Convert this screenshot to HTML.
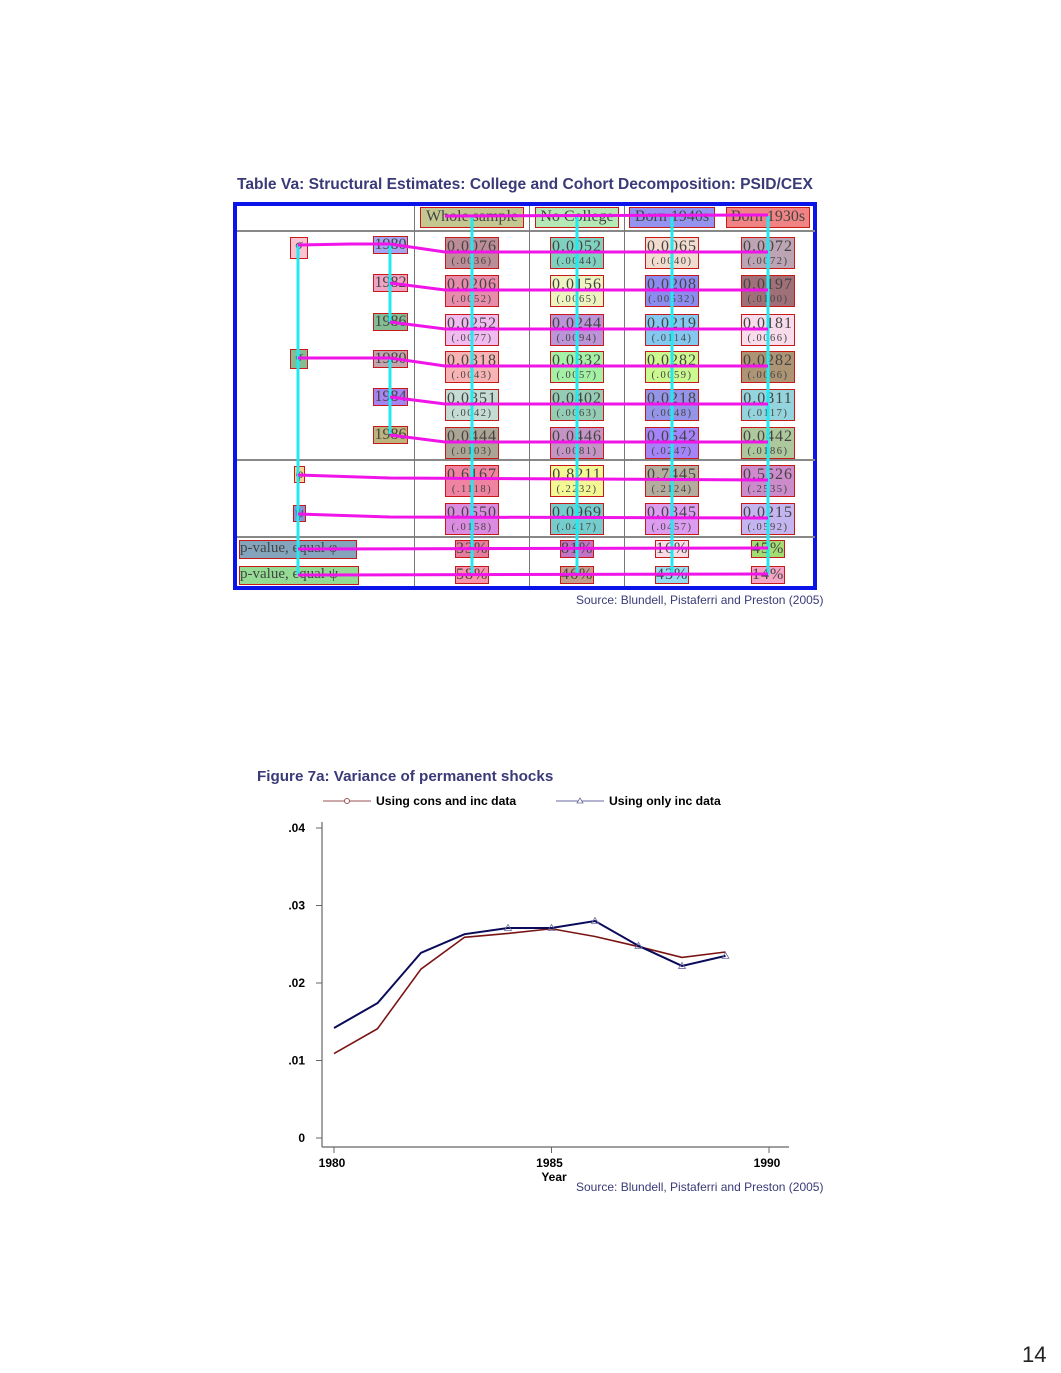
<!DOCTYPE html>
<html><head><meta charset="utf-8">
<style>
body{margin:0;width:1061px;height:1373px;background:#fff;position:relative;overflow:hidden;font-family:"Liberation Sans",sans-serif}
.abs{position:absolute}
.ttl{color:#3a3a78;font-weight:bold}
.box{position:absolute;border:1.5px solid #c81818;box-sizing:border-box;font-family:"Liberation Serif",serif;color:#444;text-align:center;white-space:nowrap;overflow:visible}
.val{font-size:16px;line-height:17px;letter-spacing:1px}
.se{font-size:10.5px;line-height:13px;letter-spacing:1.5px}
.src{font-size:12px;color:#3a3a78}
</style></head><body>
<div class="abs ttl" style="left:237px;top:176px;font-size:15.6px">Table Va: Structural Estimates: College and Cohort Decomposition: PSID/CEX</div>
<div id="tbl" class="abs" style="left:0;top:0;width:1061px;height:700px"></div>
<div class="abs src" style="left:576px;top:593px">Source: Blundell, Pistaferri and Preston (2005)</div>

<div class="abs ttl" style="left:257px;top:768px;font-size:15.2px">Figure 7a: Variance of permanent shocks</div>
<svg id="chart" class="abs" style="left:0;top:0" width="1061" height="1373"></svg>
<div class="abs src" style="left:576px;top:1180px">Source: Blundell, Pistaferri and Preston (2005)</div>
<div class="abs" style="left:1022px;top:1342px;font-size:22px;color:#222">14</div>

<script>
// ---------- table data ----------
const colHeads=["Whole sample","No College","Born 1940s","Born 1930s"];
const headColors=["#c4c890","#b4e8b4","#9494f0","#f08484"];
const rowVals=[["0.0076","0.0052","0.0065","0.0072"],["0.0206","0.0156","0.0208","0.0197"],["0.0252","0.0244","0.0219","0.0181"],["0.0318","0.0332","0.0282","0.0282"],["0.0351","0.0402","0.0218","0.0311"],["0.0444","0.0446","0.0542","0.0442"],["0.6167","0.8211","0.7445","0.5526"],["0.0550","0.0969","0.0845","0.0215"]];
const rowSEs=[["(.0036)","(.0044)","(.0040)","(.0072)"],["(.0052)","(.0065)","(.00532)","(.0100)"],["(.0077)","(.0094)","(.0114)","(.0066)"],["(.0043)","(.0057)","(.0059)","(.0066)"],["(.0042)","(.0063)","(.0048)","(.0117)"],["(.0103)","(.0081)","(.0247)","(.0186)"],["(.1118)","(.2232)","(.2124)","(.2535)"],["(.0158)","(.0417)","(.0457)","(.0592)"]];
const cellColors=[["#bc8c98","#80d0c0","#f2dccf","#bca4b4"],["#e88cac","#eef4c0","#8c8cf0","#a07078"],["#f0bcf0","#bc94d8","#84c8f0","#f8dcec"],["#f8b4b4","#a4f0a4","#ccf890","#ac9474"],["#c4dcd4","#94ccb4","#9494e8","#94d4dc"],["#aca494","#c494c4","#a484f8","#acc89c"],["#f084a0","#f4f894","#b4ac9c","#cc8ccc"],["#dc8ce0","#74cccc","#dc9cf0","#c4b4f0"]];
const pVals=[["33%","81%","16%","45%"],["58%","46%","43%","14%"]];
const pColors=[["#e47c9c","#c474c4","#f8dce4","#a4dc74"],["#f894ac","#c49c8c","#94dcf0","#f4a4c4"]];
const yearLabels=["1980","1982","1986","1980","1984","1986"];
const yearColors=["#a4a4f0","#f0a4c4","#84bc94","#c4a4ac","#a484f0","#bcb47c"];

const T=document.getElementById('tbl');
const colX=[472,577,672,768];
const rowY=[237,275,314,351,389,427,465,503];
function div(cls,l,t,w,h,bg,html){const d=document.createElement('div');d.className=cls;d.style.left=l+'px';d.style.top=t+'px';if(w)d.style.width=w+'px';if(h)d.style.height=h+'px';if(bg)d.style.background=bg;d.innerHTML=html;T.appendChild(d);return d;}
let f=div('abs',233,202,584,388,null,'');f.style.border='4px solid #0a14e8';f.style.boxSizing='border-box';


[[237,230,578,2],[237,459,578,2],[237,536,578,2]].forEach(r=>{let g=div('abs',r[0],r[1],r[2],r[3],'#888','');

});
[414,529,624].forEach(x=>{let g=div('abs',x,206,1,380,'#777','');

});
colHeads.forEach((h,i)=>{let w=[104,84,86,84][i];let d=div('box val',colX[i]-w/2,207,w,21,headColors[i],h);d.style.lineHeight='18px';d.style.letterSpacing='0';

});
rowVals.forEach((r,ri)=>r.forEach((v,ci)=>{let d=div('box',colX[ci]-27,rowY[ri],54,32,cellColors[ri][ci],'<div class="val">'+v+'</div><div class="se">'+rowSEs[ri][ci]+'</div>');

}));
pVals.forEach((r,ri)=>r.forEach((v,ci)=>{let d=div('box val',colX[ci]-17,540+ri*26,34,18,pColors[ri][ci],v);d.style.lineHeight='15px';

}));
const yearTops=[236,274,313,350,388,426];
yearLabels.forEach((y,i)=>{let d=div('box val',373,yearTops[i],35,18,yearColors[i],y);d.style.lineHeight='15px';d.style.letterSpacing='0';

});
const params=[[290,237,18,22,'#f8c4d4','σ'],[290,349,18,20,'#84bc94','σ'],[294,466,11,17,'#f8d494','φ'],[293,505,13,17,'#8494d4','ψ'],[239,540,118,19,'#84a4bc','p-value, equal φ'],[239,566,120,19,'#94dc94','p-value, equal ψ']];
params.forEach(p=>{let d=div('box val',p[0],p[1],p[2],p[3],p[4],p[5]);d.style.lineHeight='15px';d.style.letterSpacing='0';d.style.fontSize=p[2]>50?'15px':'14px';if(p[2]>50)d.style.textAlign='left';

});
const ns='http://www.w3.org/2000/svg';
const ov=document.createElementNS(ns,'svg');ov.setAttribute('width','1061');ov.setAttribute('height','700');ov.style.position='absolute';ov.style.left='0';ov.style.top='0';


T.appendChild(ov);
function pl(pts,col,w){const p=document.createElementNS(ns,'polyline');p.setAttribute('points',pts);p.setAttribute('fill','none');p.setAttribute('stroke',col);p.setAttribute('stroke-width',w);ov.appendChild(p);return p;}
[[298,575,298,245],[390,245,390,322],[390,358,390,434]].forEach(a=>pl(a.join(','),'#22e8f0',3));
colX.forEach(x=>pl(x+',216 '+x+',575','#22e8f0',3));
const mag=[[[298,245],[350,244],[390,244],[445,252],[768,252]],[[390,283],[445,290],[768,290]],[[390,322],[445,329],[768,329]],[[298,358],[390,358],[445,366],[768,366]],[[390,397],[445,404],[768,404]],[[390,435],[445,442],[768,442]],[[298,475],[390,478],[768,480]],[[298,514],[390,517],[768,518]],[[298,549],[768,548]],[[298,575],[768,574]],[[445,216],[768,215]]];
mag.forEach(m=>pl(m.map(p=>p.join(',')).join(' '),'#f014e8',3));

// ---------- chart data ----------
const years=[1980,1981,1982,1983,1984,1985,1986,1987,1988,1989];
const consInc=[0.0109,0.0141,0.0218,0.0259,0.0264,0.0270,0.0260,0.0247,0.0233,0.0240];
const onlyInc=[0.0142,0.0174,0.0239,0.0263,0.0271,0.0271,0.0280,0.0248,0.0222,0.0235];
const yTicks=[0,0.01,0.02,0.03,0.04];
const yTickLabels=["0",".01",".02",".03",".04"];
const xTicks=[1980,1985,1990];
const xTickLabels=["1980","1985","1990"];

const C=document.getElementById('chart');
const X=v=>334+(v-1980)*43.5;
const Y=v=>1138-v*7750;
function el(tag,attrs,txt){const e=document.createElementNS(ns,tag);for(const k in attrs)e.setAttribute(k,attrs[k]);if(txt!==undefined)e.textContent=txt;C.appendChild(e);return e;}
let a=el('line',{x1:322,y1:822,x2:322,y2:1147,stroke:'#666','stroke-width':1.2});


a=el('line',{x1:322,y1:1147,x2:789,y2:1147,stroke:'#666','stroke-width':1.2});


yTicks.forEach((t,i)=>{el('line',{x1:316,y1:Y(t),x2:322,y2:Y(t),stroke:'#666'});
let l=el('text',{x:305,y:Y(t)+4,'text-anchor':'end','font-size':12,'font-weight':'bold','font-family':'Liberation Sans'},yTickLabels[i]);

});
xTicks.forEach((t,i)=>{el('line',{x1:X(t),y1:1147,x2:X(t),y2:1153,stroke:'#666'});
let l=el('text',{x:X(t)-2,y:1167,'text-anchor':'middle','font-size':12,'font-weight':'bold','font-family':'Liberation Sans'},xTickLabels[i]);

});
let xt=el('text',{x:554,y:1181,'text-anchor':'middle','font-size':12,'font-weight':'bold','font-family':'Liberation Sans'},'Year');


let s1=el('polyline',{points:years.map((y,i)=>X(y)+','+Y(consInc[i])).join(' '),fill:'none',stroke:'#7a1414','stroke-width':1.6});


let s2=el('polyline',{points:years.map((y,i)=>X(y)+','+Y(onlyInc[i])).join(' '),fill:'none',stroke:'#0a0a5a','stroke-width':2});


years.forEach((y,i)=>{if(i>=4){let cx=X(y),cy=Y(onlyInc[i]);let m=el('polygon',{points:`${cx},${cy-3.5} ${cx-3.5},${cy+2.5} ${cx+3.5},${cy+2.5}`,fill:'none',stroke:'#6a6aa0','stroke-width':0.8});

}});
el('line',{x1:323,y1:801,x2:371,y2:801,stroke:'#9a5050'});
el('circle',{cx:347,cy:801,r:2.5,fill:'#fff',stroke:'#9a5050'});
let lg=el('text',{x:376,y:805,'font-size':12.2,'font-weight':'bold','font-family':'Liberation Sans'},'Using cons and inc data');


el('line',{x1:556,y1:801,x2:604,y2:801,stroke:'#6a6aa0'});
el('polygon',{points:'580,798 577,803 583,803',fill:'#fff',stroke:'#6a6aa0','stroke-width':0.8});
lg=el('text',{x:609,y:805,'font-size':12.2,'font-weight':'bold','font-family':'Liberation Sans'},'Using only inc data');


</script>
</body></html>
